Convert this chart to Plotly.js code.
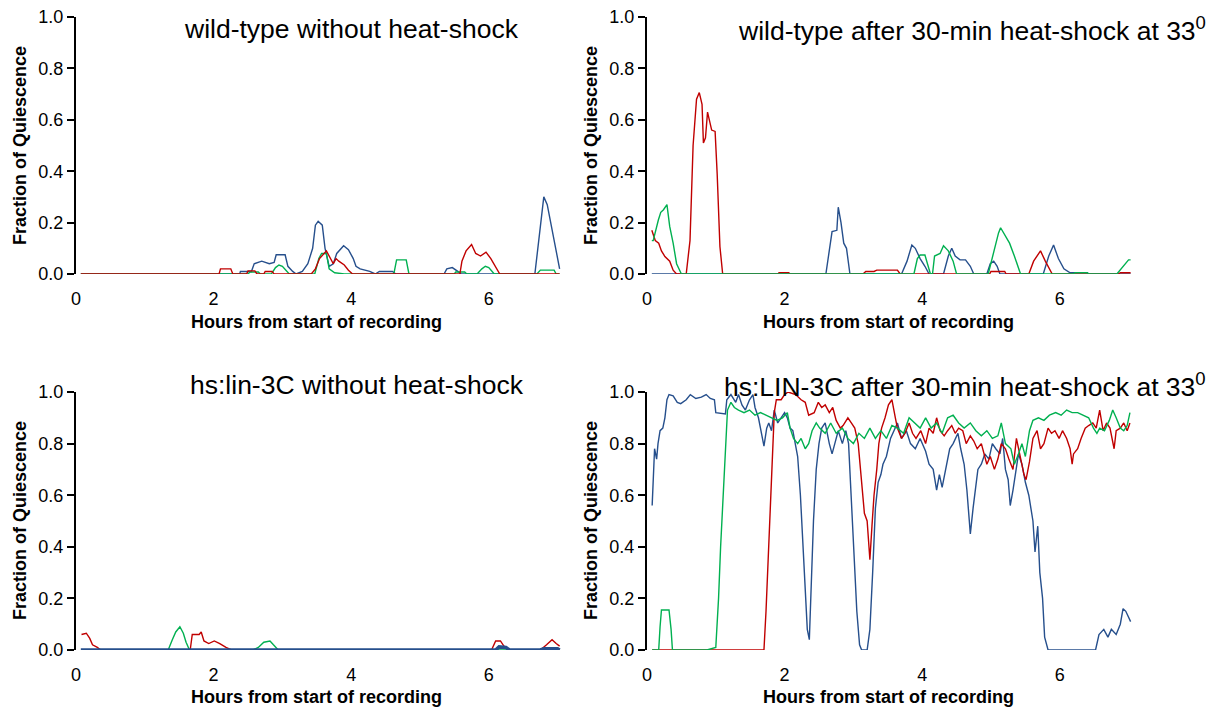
<!DOCTYPE html>
<html>
<head>
<meta charset="utf-8">
<script src="https://cdn.plot.ly/plotly-3.0.1.min.js"></script>
<style>html,body{margin:0;padding:0;background:#fff;}#chart{width:1218px;height:711px;}</style>
</head>
<body>
<div id="chart"></div>
<script>
// ---------- Data (hours from start of recording, fraction of quiescence) ----------
// Panel A: wild-type without heat-shock
const wtNoHS_blue_t = [0.07, 2.38, 2.39, 2.55, 2.59, 2.70, 2.81, 2.88, 2.91, 3.04, 3.08, 3.15, 3.20, 3.29, 3.37, 3.44, 3.48, 3.52, 3.58, 3.62, 3.68, 3.74, 3.79, 3.89, 3.96, 4.03, 4.07, 4.13, 4.27, 4.35, 4.41, 4.60, 4.65, 5.35, 5.39, 5.47, 5.55, 5.60, 6.67, 6.72, 6.76, 6.80, 6.85, 6.90, 6.97, 7.00, 7.03];
const wtNoHS_blue_q = [0, 0, 0.01, 0.01, 0.04, 0.05, 0.04, 0.045, 0.075, 0.075, 0.03, 0.01, 0, 0.01, 0.04, 0.10, 0.19, 0.205, 0.19, 0.10, 0.03, 0.04, 0.08, 0.11, 0.095, 0.06, 0.03, 0.02, 0.01, 0, 0.01, 0.01, 0, 0, 0.02, 0.025, 0.01, 0, 0, 0.12, 0.22, 0.30, 0.27, 0.20, 0.10, 0.05, 0.02];
const wtNoHS_red_t = [0.07, 2.08, 2.10, 2.25, 2.28, 2.48, 2.50, 2.60, 2.63, 2.73, 2.75, 2.85, 2.88, 3.42, 3.48, 3.54, 3.64, 3.68, 3.74, 3.78, 3.82, 3.90, 3.96, 4.02, 5.58, 5.61, 5.67, 5.75, 5.81, 5.88, 5.96, 6.03, 6.10, 6.16, 7.03];
const wtNoHS_red_q = [0, 0, 0.02, 0.02, 0, 0, 0.012, 0.012, 0, 0, 0.01, 0.01, 0, 0, 0.02, 0.06, 0.09, 0.07, 0.04, 0.06, 0.05, 0.035, 0.015, 0, 0, 0.05, 0.09, 0.115, 0.08, 0.07, 0.085, 0.06, 0.03, 0, 0];
const wtNoHS_green_t = [0.07, 2.50, 2.53, 2.65, 2.68, 2.84, 2.90, 2.95, 3.00, 3.06, 3.10, 3.47, 3.53, 3.57, 3.64, 3.68, 3.76, 3.90, 4.62, 4.66, 4.80, 4.84, 5.50, 5.52, 5.65, 5.68, 5.83, 5.90, 5.95, 6.00, 6.08, 6.70, 6.75, 6.95, 6.98, 7.03];
const wtNoHS_green_q = [0, 0, 0.008, 0.008, 0, 0, 0.025, 0.035, 0.03, 0.01, 0, 0, 0.06, 0.08, 0.08, 0.02, 0.005, 0, 0, 0.055, 0.055, 0, 0, 0.008, 0.008, 0, 0, 0.02, 0.03, 0.025, 0, 0, 0.015, 0.015, 0, 0];

// Panel B: wild-type after 30-min heat-shock at 33
const wtHS_blue_t = [0.07, 2.60, 2.69, 2.76, 2.78, 2.82, 2.86, 2.90, 2.95, 3.70, 3.78, 3.85, 3.90, 3.97, 4.04, 4.10, 4.31, 4.38, 4.43, 4.48, 4.55, 4.63, 4.70, 4.75, 4.94, 4.99, 5.04, 5.09, 5.13, 5.76, 5.84, 5.91, 5.98, 6.06, 6.15, 6.40, 6.42, 7.03];
const wtHS_blue_q = [0, 0, 0.165, 0.17, 0.26, 0.20, 0.12, 0.10, 0, 0, 0.05, 0.113, 0.10, 0.06, 0.03, 0, 0, 0.07, 0.10, 0.07, 0.055, 0.055, 0.03, 0, 0, 0.04, 0.05, 0.03, 0, 0, 0.07, 0.113, 0.06, 0.02, 0.005, 0.005, 0, 0];
const wtHS_red_t = [0.07, 0.12, 0.17, 0.21, 0.26, 0.33, 0.38, 0.43, 0.57, 0.625, 0.67, 0.72, 0.76, 0.80, 0.82, 0.85, 0.88, 0.91, 0.94, 0.99, 1.02, 1.06, 1.10, 1.90, 1.92, 2.06, 2.08, 3.14, 3.18, 3.30, 3.34, 3.64, 3.68, 4.98, 5.00, 5.20, 5.22, 5.55, 5.62, 5.72, 5.79, 5.89, 6.85, 6.88, 7.03];
const wtHS_red_q = [0.17, 0.13, 0.12, 0.09, 0.068, 0.05, 0.015, 0, 0, 0.13, 0.50, 0.68, 0.706, 0.66, 0.51, 0.53, 0.63, 0.60, 0.56, 0.555, 0.39, 0.107, 0, 0, 0.005, 0.005, 0, 0, 0.01, 0.01, 0.015, 0.015, 0, 0, 0.01, 0.01, 0, 0, 0.05, 0.09, 0.05, 0, 0, 0.005, 0.005];
const wtHS_green_t = [0.07, 0.09, 0.165, 0.20, 0.24, 0.29, 0.33, 0.38, 0.43, 0.50, 3.88, 3.93, 3.97, 4.04, 4.12, 4.15, 4.18, 4.26, 4.31, 4.38, 4.45, 4.50, 4.96, 5.04, 5.11, 5.14, 5.20, 5.27, 5.34, 5.43, 6.20, 6.22, 6.40, 6.42, 6.83, 6.92, 7.00, 7.03];
const wtHS_green_q = [0.13, 0.13, 0.21, 0.24, 0.25, 0.27, 0.185, 0.12, 0.04, 0, 0, 0.06, 0.074, 0.074, 0, 0, 0.07, 0.08, 0.11, 0.09, 0.05, 0, 0, 0.09, 0.16, 0.18, 0.15, 0.12, 0.07, 0, 0, 0.005, 0.005, 0, 0, 0.03, 0.055, 0.055];

// Panel C: hs:lin-3C without heat-shock
const lin3NoHS_red_t = [0.08, 0.15, 0.20, 0.24, 0.31, 0.36, 1.66, 1.69, 1.79, 1.82, 1.86, 1.93, 2.01, 2.09, 2.18, 2.26, 6.04, 6.10, 6.17, 6.22, 6.28, 6.75, 6.84, 6.92, 6.98, 7.03];
const lin3NoHS_red_q = [0.06, 0.065, 0.045, 0.02, 0.01, 0, 0, 0.06, 0.06, 0.07, 0.035, 0.025, 0.035, 0.025, 0.01, 0, 0, 0.035, 0.035, 0.015, 0, 0, 0.02, 0.04, 0.025, 0.015];
const lin3NoHS_green_t = [0.08, 1.34, 1.40, 1.45, 1.51, 1.56, 1.60, 1.65, 2.57, 2.65, 2.73, 2.82, 2.87, 2.94, 7.03];
const lin3NoHS_green_q = [0, 0, 0.04, 0.07, 0.09, 0.065, 0.03, 0, 0, 0.01, 0.03, 0.035, 0.02, 0, 0];
const lin3NoHS_blue_t = [0.07, 6.10, 6.15, 6.25, 6.30, 6.75, 6.80, 7.00, 7.03];
const lin3NoHS_blue_q = [0, 0, 0.012, 0.01, 0, 0, 0.005, 0.005, 0];

// Panel D: hs:LIN-3C after 30-min heat-shock at 33
const lin3HS_blue_t = [0.075, 0.10, 0.11, 0.14, 0.16, 0.19, 0.23, 0.26, 0.29, 0.32, 0.38, 0.44, 0.49, 0.57, 0.63, 0.71, 0.79, 0.86, 0.92, 0.98, 1.00, 1.14, 1.16, 1.22, 1.29, 1.33, 1.38, 1.43, 1.49, 1.54, 1.57, 1.62, 1.67, 1.70, 1.74, 1.77, 1.81, 1.85, 1.90, 1.95, 2.00, 2.04, 2.08, 2.12, 2.15, 2.19, 2.23, 2.27, 2.31, 2.33, 2.36, 2.38, 2.42, 2.46, 2.50, 2.54, 2.59, 2.65, 2.69, 2.73, 2.78, 2.84, 2.89, 2.93, 2.97, 3.01, 3.05, 3.09, 3.12, 3.20, 3.24, 3.28, 3.32, 3.36, 3.40, 3.43, 3.48, 3.54, 3.59, 3.64, 3.70, 3.77, 3.83, 3.90, 3.97, 4.05, 4.10, 4.16, 4.21, 4.25, 4.29, 4.35, 4.40, 4.45, 4.52, 4.56, 4.61, 4.65, 4.70, 4.74, 4.78, 4.81, 4.86, 4.91, 4.97, 5.02, 5.07, 5.13, 5.17, 5.21, 5.25, 5.28, 5.32, 5.35, 5.40, 5.45, 5.50, 5.55, 5.57, 5.61, 5.64, 5.68, 5.71, 5.75, 5.78, 5.83, 6.52, 6.57, 6.64, 6.70, 6.75, 6.82, 6.88, 6.92, 6.96, 7.00, 7.03];
const lin3HS_blue_q = [0.56, 0.72, 0.78, 0.74, 0.80, 0.85, 0.86, 0.90, 0.97, 0.99, 0.985, 0.96, 0.955, 0.97, 0.99, 0.975, 0.98, 0.99, 0.975, 0.97, 0.92, 0.915, 0.97, 0.99, 0.96, 0.99, 0.95, 0.93, 0.97, 0.99, 0.94, 0.90, 0.83, 0.79, 0.86, 0.88, 0.85, 0.93, 0.88, 0.90, 0.92, 0.90, 0.86, 0.85, 0.80, 0.75, 0.60, 0.40, 0.20, 0.08, 0.04, 0.20, 0.50, 0.70, 0.80, 0.86, 0.88, 0.80, 0.76, 0.80, 0.85, 0.80, 0.85, 0.80, 0.60, 0.38, 0.15, 0.02, 0, 0, 0.08, 0.30, 0.55, 0.65, 0.68, 0.72, 0.75, 0.82, 0.85, 0.88, 0.82, 0.85, 0.80, 0.78, 0.82, 0.77, 0.72, 0.70, 0.62, 0.68, 0.63, 0.72, 0.78, 0.80, 0.84, 0.78, 0.72, 0.62, 0.45, 0.55, 0.65, 0.70, 0.72, 0.76, 0.74, 0.80, 0.78, 0.76, 0.82, 0.70, 0.66, 0.56, 0.62, 0.68, 0.76, 0.72, 0.65, 0.60, 0.57, 0.50, 0.38, 0.48, 0.30, 0.20, 0.05, 0, 0, 0.06, 0.08, 0.05, 0.08, 0.06, 0.10, 0.16, 0.15, 0.13, 0.11];
const lin3HS_green_t = [0.075, 0.17, 0.19, 0.21, 0.32, 0.35, 0.37, 0.87, 1.00, 1.04, 1.07, 1.11, 1.15, 1.17, 1.22, 1.27, 1.33, 1.41, 1.49, 1.57, 1.65, 1.73, 1.81, 1.89, 1.97, 2.04, 2.08, 2.13, 2.19, 2.24, 2.30, 2.35, 2.40, 2.46, 2.51, 2.59, 2.67, 2.75, 2.84, 2.92, 3.00, 3.08, 3.16, 3.24, 3.32, 3.40, 3.48, 3.56, 3.64, 3.73, 3.81, 3.89, 3.97, 4.05, 4.13, 4.21, 4.29, 4.37, 4.45, 4.53, 4.61, 4.70, 4.78, 4.86, 4.94, 5.02, 5.10, 5.15, 5.21, 5.29, 5.34, 5.40, 5.45, 5.50, 5.56, 5.61, 5.69, 5.77, 5.85, 5.94, 6.02, 6.10, 6.18, 6.26, 6.34, 6.42, 6.49, 6.54, 6.58, 6.65, 6.72, 6.77, 6.82, 6.88, 6.93, 6.98, 7.02];
const lin3HS_green_q = [0, 0, 0.09, 0.155, 0.155, 0.08, 0, 0, 0.01, 0.20, 0.40, 0.60, 0.80, 0.93, 0.96, 0.94, 0.93, 0.92, 0.93, 0.91, 0.92, 0.91, 0.90, 0.89, 0.90, 0.92, 0.86, 0.82, 0.80, 0.82, 0.78, 0.80, 0.85, 0.88, 0.86, 0.84, 0.88, 0.84, 0.86, 0.82, 0.80, 0.84, 0.82, 0.86, 0.82, 0.85, 0.82, 0.87, 0.86, 0.84, 0.90, 0.88, 0.86, 0.90, 0.86, 0.88, 0.84, 0.90, 0.91, 0.88, 0.86, 0.88, 0.85, 0.83, 0.85, 0.82, 0.83, 0.88, 0.80, 0.78, 0.72, 0.76, 0.80, 0.75, 0.85, 0.89, 0.90, 0.89, 0.91, 0.92, 0.91, 0.93, 0.92, 0.92, 0.91, 0.90, 0.86, 0.84, 0.86, 0.85, 0.89, 0.93, 0.90, 0.86, 0.85, 0.87, 0.92];
const lin3HS_red_t = [0.075, 1.70, 1.73, 1.77, 1.81, 1.85, 1.88, 1.95, 2.00, 2.05, 2.16, 2.24, 2.30, 2.35, 2.43, 2.49, 2.54, 2.59, 2.65, 2.70, 2.75, 2.81, 2.85, 2.92, 2.97, 3.02, 3.07, 3.10, 3.13, 3.16, 3.20, 3.24, 3.27, 3.30, 3.34, 3.37, 3.41, 3.46, 3.51, 3.56, 3.61, 3.64, 3.70, 3.75, 3.81, 3.86, 3.91, 3.98, 4.05, 4.10, 4.16, 4.21, 4.26, 4.32, 4.37, 4.43, 4.48, 4.53, 4.59, 4.64, 4.70, 4.75, 4.80, 4.86, 4.94, 4.99, 5.05, 5.10, 5.15, 5.21, 5.26, 5.32, 5.37, 5.42, 5.48, 5.51, 5.56, 5.61, 5.67, 5.72, 5.77, 5.83, 5.88, 5.93, 5.99, 6.04, 6.10, 6.15, 6.18, 6.20, 6.26, 6.31, 6.37, 6.42, 6.48, 6.53, 6.58, 6.63, 6.68, 6.73, 6.79, 6.82, 6.88, 6.93, 6.98, 7.02];
const lin3HS_red_q = [0, 0, 0.15, 0.40, 0.70, 0.92, 0.97, 0.97, 0.99, 1.00, 0.99, 0.97, 0.96, 0.91, 0.92, 0.96, 0.94, 0.95, 0.92, 0.94, 0.89, 0.86, 0.87, 0.90, 0.88, 0.86, 0.80, 0.70, 0.60, 0.53, 0.50, 0.35, 0.48, 0.60, 0.70, 0.80, 0.86, 0.90, 0.95, 0.97, 0.90, 0.86, 0.82, 0.84, 0.88, 0.84, 0.82, 0.85, 0.80, 0.86, 0.84, 0.90, 0.85, 0.83, 0.85, 0.87, 0.84, 0.86, 0.85, 0.80, 0.83, 0.81, 0.78, 0.80, 0.72, 0.75, 0.70, 0.74, 0.80, 0.78, 0.74, 0.70, 0.82, 0.76, 0.68, 0.66, 0.73, 0.82, 0.85, 0.78, 0.80, 0.86, 0.84, 0.85, 0.82, 0.85, 0.82, 0.78, 0.72, 0.76, 0.78, 0.82, 0.86, 0.87, 0.88, 0.86, 0.93, 0.85, 0.88, 0.86, 0.78, 0.85, 0.86, 0.88, 0.85, 0.88];

const panelTitles = ["wild-type without heat-shock", "wild-type after 30-min heat-shock at 33<sup>0</sup>", "hs:lin-3C without heat-shock", "hs:LIN-3C after 30-min heat-shock at 33<sup>0</sup>"];
const xTitle = "Hours from start of recording";
const yTitle = "Fraction of Quiescence";
const xTicks = [0, 2, 4, 6];
const yTicks = [0, 0.2, 0.4, 0.6, 0.8, 1.0];

// ---------- Styling ----------
const BLUE = "#264F8C", RED = "#C00000", GREEN = "#00B050";
const FONT = "Arial, 'Liberation Sans', sans-serif";

function tr(t, q, color, ax, w) {
  return {x: t, y: q, type: "scatter", mode: "lines", xaxis: "x" + ax, yaxis: "y" + ax,
          line: {color: color, width: w || 1.4}, cliponaxis: false, hoverinfo: "skip", showlegend: false};
}

const traces = [
  tr(wtNoHS_blue_t, wtNoHS_blue_q, BLUE, ""),
  tr(wtNoHS_green_t, wtNoHS_green_q, GREEN, ""),
  tr(wtNoHS_red_t, wtNoHS_red_q, RED, ""),
  tr(wtHS_blue_t, wtHS_blue_q, BLUE, "2"),
  tr(wtHS_red_t, wtHS_red_q, RED, "2"),
  tr(wtHS_green_t, wtHS_green_q, GREEN, "2"),
  tr(lin3NoHS_red_t, lin3NoHS_red_q, RED, "3"),
  tr(lin3NoHS_green_t, lin3NoHS_green_q, GREEN, "3"),
  tr(lin3NoHS_blue_t, lin3NoHS_blue_q, BLUE, "3", 3.5),
  tr(lin3HS_blue_t, lin3HS_blue_q, BLUE, "4"),
  tr(lin3HS_red_t, lin3HS_red_q, RED, "4"),
  tr(lin3HS_green_t, lin3HS_green_q, GREEN, "4")
];

const W = 1218, H = 711;
const colPx = [[76, 561], [647, 1132]];
const rowPx = [[17, 274], [392, 650]];

function xa(col, row) {
  return {domain: [colPx[col][0] / W, colPx[col][1] / W], range: [0, 7.05], anchor: "y" + (row * 2 + col === 0 ? "" : (row * 2 + col + 1)),
          showline: false, showgrid: false, zeroline: false, tickvals: xTicks, ticktext: xTicks.map(String),
          ticks: "outside", ticklen: 8, tickcolor: "rgba(0,0,0,0)", tickfont: {family: FONT, size: 18, color: "#000"}, fixedrange: true};
}
function ya(col, row) {
  return {domain: [1 - rowPx[row][1] / H, 1 - rowPx[row][0] / H], range: [0, 1], anchor: "x" + (row * 2 + col === 0 ? "" : (row * 2 + col + 1)),
          showline: true, linecolor: "#000", linewidth: 2, showgrid: false, zeroline: false, tickvals: yTicks,
          ticktext: yTicks.map(v => v.toFixed(1)), ticks: "outside", ticklen: 7, tickwidth: 2, tickcolor: "#000",
          tickfont: {family: FONT, size: 18, color: "#000"}, fixedrange: true};
}

const annotations = [];
const titlePos = [[351, 29], [972, 29], [357, 385], [965, 385]];
panelTitles.forEach((txt, i) => {
  annotations.push({text: txt, x: titlePos[i][0] / W, y: 1 - titlePos[i][1] / H, xref: "paper", yref: "paper",
                    xanchor: "center", yanchor: "middle", showarrow: false, font: {family: FONT, size: 26.5, color: "#000"}});
});
const xtPos = [[316, 322], [888, 322], [316, 697], [888, 697]];
xtPos.forEach(p => annotations.push({text: "<b>" + xTitle + "</b>", x: p[0] / W, y: 1 - p[1] / H, xref: "paper", yref: "paper",
  xanchor: "center", yanchor: "middle", showarrow: false, font: {family: FONT, size: 18, color: "#000"}}));
const ytPos = [[20, 146], [591, 146], [20, 521], [591, 521]];
ytPos.forEach(p => annotations.push({text: "<b>" + yTitle + "</b>", x: p[0] / W, y: 1 - p[1] / H, xref: "paper", yref: "paper",
  xanchor: "center", yanchor: "middle", textangle: -90, showarrow: false, font: {family: FONT, size: 18, color: "#000"}}));

const layout = {
  width: W, height: H, margin: {l: 0, r: 0, t: 0, b: 0}, paper_bgcolor: "#fff", plot_bgcolor: "rgba(0,0,0,0)",
  showlegend: false, font: {family: FONT, color: "#000"},
  xaxis: xa(0, 0), yaxis: ya(0, 0),
  xaxis2: xa(1, 0), yaxis2: ya(1, 0),
  xaxis3: xa(0, 1), yaxis3: ya(0, 1),
  xaxis4: xa(1, 1), yaxis4: ya(1, 1),
  annotations: annotations
};

Plotly.newPlot("chart", traces, layout, {staticPlot: true, displayModeBar: false});
</script>
</body>
</html>
